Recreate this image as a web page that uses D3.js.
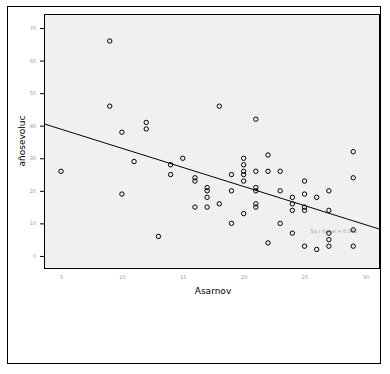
<!DOCTYPE html>
<html>
<head>
<meta charset="utf-8">
<script src="https://cdn.jsdelivr.net/npm/d3@7"></script>
<style>
  body { margin: 0; background: #fff; }
  svg text { font-family: "DejaVu Sans", sans-serif; }
</style>
</head>
<body>
<div id="chart"></div>
<script>
var WIDTH = 390
var HEIGHT = 374

// Asarnov score vs años de evolución
var asarnov = [5, 9, 9, 10, 10, 11, 12, 12, 13, 14, 14, 15, 16, 16, 16, 17, 17, 17, 17, 18, 18,
    19, 19, 19, 20, 20, 20, 20, 20, 20, 21, 21, 21, 21, 21, 21, 22, 22, 22, 23, 23, 23,
    24, 24, 24, 24, 25, 25, 25, 25, 25, 26, 26, 27, 27, 27, 27, 27, 29, 29, 29, 29];
var anosEvol = [26, 66, 46, 38, 19, 29, 41, 39, 6, 28, 25, 30, 24, 23, 15, 21, 20, 18, 15, 46, 16,
    25, 20, 10, 30, 28, 26, 25, 23, 13, 42, 26, 21, 20, 16, 15, 31, 26, 4, 26, 20, 10,
    18, 16, 14, 7, 23, 19, 15, 14, 3, 18, 2, 20, 14, 7, 5, 3, 32, 24, 8, 3];
var xTicks = [5, 10, 15, 20, 25, 30];
var yTicks = [0, 10, 20, 30, 40, 50, 60, 70];
var rSqLabel = 'Sq r lineal = 0.341';

var svg = d3.select('#chart').append('svg')
    .attr('width', WIDTH)
    .attr('height', HEIGHT);

// outer frame
svg.append('rect')
    .attr('x', 7.5).attr('y', 6.5)
    .attr('width', 373).attr('height', 357)
    .attr('fill', 'none')
    .attr('stroke', '#000');

var pLeft = 44, pTop = 14, pRight = 380, pBottom = 268;

let xScale = d3.scaleLinear()
    .domain([3.6, 31.2])
    .range([pLeft, pRight]);
let yScale = d3.scaleLinear()
    .domain([-3.7, 74.3])
    .range([pBottom, pTop]);

svg.append('rect')
    .attr('x', pLeft + 0.5).attr('y', pTop + 0.5)
    .attr('width', pRight - pLeft - 1).attr('height', pBottom - pTop)
    .attr('fill', '#f0f0f0')
    .attr('stroke', '#000');

// y axis
var yAxis = svg.append('g')
    .attr('transform', 'translate(' + pLeft + ',0)')
    .call(d3.axisLeft(yScale).tickValues(yTicks).tickSize(4).tickPadding(4));
yAxis.select('.domain').remove();
yAxis.selectAll('text').attr('fill', '#999').style('font-size', '5px');

// x axis
var xAxis = svg.append('g')
    .attr('transform', 'translate(0,' + pBottom + ')')
    .call(d3.axisBottom(xScale).tickValues(xTicks).tickSize(0).tickPadding(7));
xAxis.select('.domain').remove();
xAxis.selectAll('text').attr('fill', '#999').style('font-size', '5px');

// least squares fit
var n = asarnov.length;
var mx = d3.mean(asarnov), my = d3.mean(anosEvol);
var sxy = 0, sxx = 0;
for (i = 0; i < n; i++) {
    sxy += (asarnov[i] - mx) * (anosEvol[i] - my);
    sxx += (asarnov[i] - mx) * (asarnov[i] - mx);
}
var slope = sxy / sxx;
var intercept = my - slope * mx;
var xd = xScale.domain();

svg.append('clipPath').attr('id', 'plotclip')
    .append('rect')
    .attr('x', pLeft).attr('y', pTop)
    .attr('width', pRight - pLeft).attr('height', pBottom - pTop);

svg.append('line')
    .attr('clip-path', 'url(#plotclip)')
    .attr('x1', xScale(xd[0])).attr('y1', yScale(intercept + slope * xd[0]))
    .attr('x2', xScale(xd[1])).attr('y2', yScale(intercept + slope * xd[1]))
    .attr('stroke', '#000')
    .attr('stroke-width', 1);

svg.append('text')
    .attr('x', xScale(25.5)).attr('y', yScale(7.2))
    .attr('fill', '#999')
    .style('font-size', '5px')
    .text(rSqLabel);

svg.selectAll('.pt')
    .data(asarnov)
    .enter()
    .append('circle')
    .attr('class', 'pt')
    .attr('cx', d => xScale(d))
    .attr('cy', (d, i) => yScale(anosEvol[i]))
    .attr('r', 2.2)
    .attr('fill', 'none')
    .attr('stroke', '#000')
    .attr('stroke-width', 1);

svg.append('text')
    .attr('x', 213).attr('y', 294)
    .attr('text-anchor', 'middle')
    .style('font-size', '9px')
    .text('Asarnov');

svg.append('text')
    .attr('transform', 'translate(25,141) rotate(-90)')
    .attr('text-anchor', 'middle')
    .style('font-size', '9px')
    .text('añosevoluc');
</script>
</body>
</html>
